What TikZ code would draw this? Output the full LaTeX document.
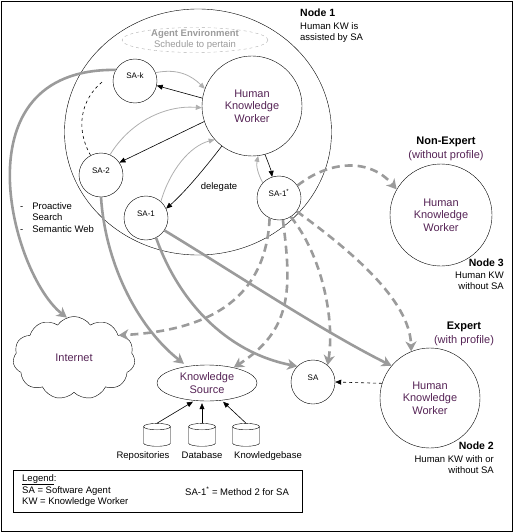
\documentclass[tikz,border=0pt]{standalone}
\usepackage{fontspec}
\setmainfont{Liberation Sans}
\usetikzlibrary{shapes.geometric, shapes.symbols, arrows.meta, positioning}
\definecolor{kwtexto}{RGB}{85,35,85}
\definecolor{gris}{RGB}{155,155,155}
\definecolor{grisc}{RGB}{175,175,175}
\tikzset{
  persona/.style={circle, draw, thin, minimum size=100pt, align=center,
    text=kwtexto, font=\fontsize{11}{12.5}\selectfont},
  agente/.style={circle, draw, thin, minimum size=44pt, inner sep=0pt,
    font=\fontsize{8}{9}\selectfont, text height=6pt, text depth=10pt},
  fuente/.style={ellipse, draw, thin, minimum width=100pt, minimum height=36pt,
    inner sep=0pt, align=center, text=kwtexto, font=\fontsize{11}{12.5}\selectfont},
  nube/.style={cloud, draw, thin, cloud puffs=11, cloud puff arc=110, aspect=1.5,
    minimum width=122pt, minimum height=83pt, text=kwtexto, font=\fontsize{11}{12}\selectfont},
  cilindro/.style={cylinder, draw, thin, shape border rotate=90, aspect=0.4,
    inner sep=8pt, minimum width=27pt, minimum height=22pt},
  etiq/.style={font=\fontsize{9.5}{11}\selectfont, inner sep=0pt},
  titulo/.style={font=\bfseries\fontsize{10.5}{12}\selectfont, inner sep=0pt},
  perfil/.style={font=\fontsize{11}{12}\selectfont, inner sep=0pt},
  flecha/.style={-{Triangle[length=6pt,width=5pt]}, semithick},
  flechag/.style={-{Triangle[length=6pt,width=5pt]}, color=grisc, line width=0.8pt},
  flechat/.style={-{Stealth[length=10pt,width=11pt,inset=3pt]}, color=gris, line width=2.6pt},
  flechatd/.style={flechat, dash pattern=on 8pt off 5pt}
}
\begin{document}
\begin{tikzpicture}[x=1pt, y=-1pt]
  \useasboundingbox (0,0) rectangle (513,532);
  \draw (1,1) rectangle (512,531);
  % Node 1
  \node[ellipse, draw, thin, minimum width=267pt, minimum height=246pt] (nodo1) at (198,132) {};
  \node[ellipse, draw=grisc, dashed, thin, minimum width=146pt, minimum height=25pt] (entorno) at (195,40) {};
  \node[etiq, text=gris, align=center] (entornotxt) at (entorno) {\textbf{Agent Environment}\\Schedule to pertain};
  \node[persona] (hkw1) at (252,106) {Human\\Knowledge\\Worker};
  \node[agente] (sak) at (135,81) {SA-k};
  \node[agente] (sa2) at (101,175) {SA-2};
  \node[agente] (sa1) at (146,218) {SA-1};
  \node[agente] (sa1s) at (279,198) {SA-1\textsuperscript{*}};
  \node[etiq] (deleg) at (219,187) {delegate};
  \node[titulo, anchor=north west] (n1) at (300,9) {Node 1};
  \node[etiq, align=left, below right=5pt and 0pt of n1.south west] (n1txt) {Human KW is\\assisted by SA};
  % Node 3
  \node[persona, minimum size=102pt] (hkw3) at (441,215) {Human\\Knowledge\\Worker};
  \node[perfil, text=kwtexto, above=3pt of hkw3, xshift=5pt] (perfil3) {(without profile)};
  \node[titulo, font=\bfseries\fontsize{11}{12}\selectfont, above=3pt of perfil3] (noexp) {Non-Expert};
  \node[titulo, anchor=north east] (n3) at (504,259) {Node 3};
  \node[etiq, align=right, below left=5pt and 0pt of n3.south east] (n3txt) {Human KW\\without SA};
  % Node 2
  \node[persona] (hkw2) at (430,398) {Human\\Knowledge\\Worker};
  \node[perfil, text=kwtexto, above=2pt of hkw2, xshift=34pt] (perfil2) {(with profile)};
  \node[titulo, font=\bfseries\fontsize{11}{12}\selectfont, above=3pt of perfil2] (exp) {Expert};
  \node[titulo, anchor=north east] (n2) at (494,442) {Node 2};
  \node[etiq, align=right, below left=5pt and 0pt of n2.south east] (n2txt) {Human KW with or\\without SA};
  \node[agente] (sa) at (313,382) {SA};
  % fuentes
  \node[nube] (inet) at (74,358) {Internet};
  \node[fuente] (ks) at (207,383) {Knowledge\\Source};
  \node[cilindro] (rep) at (157,438) {};
  \node[cilindro] (db) at (202,438) {};
  \node[cilindro] (kb) at (246,438) {};
  \node[etiq, below=5pt of rep, xshift=-14pt] (reptxt) {Repositories};
  \node[etiq, below=5pt of db] (dbtxt) {Database};
  \node[etiq, below=5pt of kb, xshift=22pt] (kbtxt) {Knowledgebase};
  \node[etiq, anchor=north west] (busq) at (20,202)
    {\begin{tabular}{@{}l@{\hspace{9pt}}l@{}}-&Proactive\\&Search\\[1pt]-&Semantic Web\end{tabular}};
  % legend
  \node[draw, thin, minimum width=289pt, minimum height=42pt, anchor=north west] (leyenda) at (13,470) {};
  \node[etiq, align=left, anchor=north west] (leytxt) at (22,474)
    {\underline{Legend}:\\[1pt]SA = Software Agent\\KW = Knowledge Worker};
  \node[etiq, anchor=west] (leytxt2) at (185,491) {SA-1\textsuperscript{*} = Method 2 for SA};
  % flechas internas
  \draw[flechag] (sak.22) .. controls (178,68) and (192,76) .. (hkw1.160);
  \draw[flechag] (sa2.66) .. controls (130,122) and (165,105) .. (hkw1.182);
  \draw[flechag] (sa1.48) .. controls (170,170) and (190,146) .. (hkw1.222);
  \draw[flechag] (sa1s.137) .. controls (258,174) and (256,166) .. (hkw1.277);
  \draw[flecha] (hkw1.171) -- (sak.-12);
  \draw[flecha] (hkw1.198) -- (sa2.34);
  \draw[flecha] (hkw1.233) .. controls (205,168) and (185,192) .. (sa1.25);
  \draw[flecha] (hkw1.285) .. controls (268,162) and (271,170) .. (sa1s.108);
  \draw[semithick, dashed, shorten >=13pt] (sa2.118) .. controls (72,122) and (86,94) .. (sak.158);
  \draw[flecha, dashed] (hkw2.163) -- (sa.east);
  % flechas gruesas
  \draw[flechat] (sak.150) .. controls (-45,68) and (12,275) .. (inet.100);
  \draw[flechat, shorten >=4pt] (sa2.-90) .. controls (105,260) and (135,325) .. (ks.140);
  \draw[flechat] (sa1.-63) .. controls (178,300) and (225,352) .. (sa.135);
  \draw[flechat] (sa1.-34) .. controls (230,270) and (320,330) .. (hkw2.140);
  \draw[flechatd] (sa1s.34) .. controls (330,160) and (370,158) .. (hkw3.150);
  \draw[flechatd] (sa1s.245) .. controls (266,295) and (215,330) .. (inet.27);
  \draw[flechatd] (sa1s.280) .. controls (292,290) and (292,330) .. (ks.30);
  \draw[flechatd] (sa1s.302) .. controls (322,255) and (335,320) .. (sa.49);
  \draw[flechatd] (sa1s.323) .. controls (350,250) and (410,300) .. (hkw2.112);
  % fuentes de datos
  \draw[flecha, shorten >=2pt] (rep.north) -- (ks.-125);
  \draw[flecha, shorten >=2pt] (db.north) -- (db.north |- ks.south);
  \draw[flecha, shorten >=2pt] (kb.north) -- (ks.-50);
\end{tikzpicture}
\end{document}
